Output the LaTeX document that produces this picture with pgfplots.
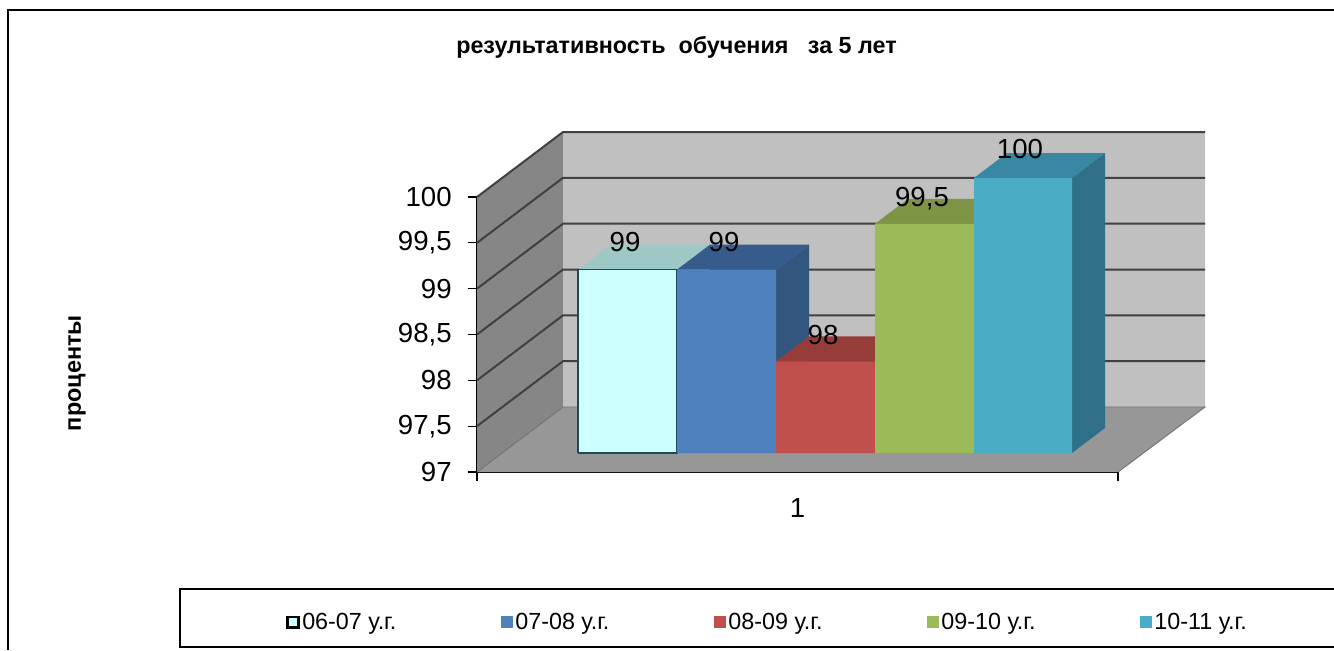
\documentclass[border=0pt]{standalone}
\usepackage{pgfplots}
\pgfplotsset{compat=1.18}
\usepackage{fontspec}
\setmainfont{Liberation Sans}
\definecolor{wallL}{HTML}{868686}
\definecolor{wallB}{HTML}{C0C0C0}
\definecolor{floorc}{HTML}{979797}
\definecolor{cF}{HTML}{CCFFFF}\definecolor{cT}{HTML}{9DC8C6}\definecolor{cS}{HTML}{8DB5B5}
\definecolor{bF}{HTML}{4F81BD}\definecolor{bT}{HTML}{365C8E}\definecolor{bS}{HTML}{33567F}
\definecolor{rF}{HTML}{C0504D}\definecolor{rT}{HTML}{963D3A}\definecolor{rS}{HTML}{8A3836}
\definecolor{gF}{HTML}{9BBB59}\definecolor{gT}{HTML}{7E9545}\definecolor{gS}{HTML}{728A40}
\definecolor{tF}{HTML}{4BACC6}\definecolor{tT}{HTML}{3A87A3}\definecolor{tS}{HTML}{2F7086}
\definecolor{edgeC}{HTML}{1F4A55}
\newcommand{\bigfnt}{\fontsize{20.7}{24}\selectfont}
% one bar: x0, x1 (px along the front edge), value, colours front/top/side, extra front style
\newcommand{\threeDbar}[7]{%
  \pgfmathsetmacro{\yb}{97.207}%
  \pgfmathsetmacro{\yt}{#3+0.207}%
  \pgfmathsetmacro{\ybb}{97.48}%
  \pgfmathsetmacro{\ytb}{#3+0.48}%
  \pgfmathsetmacro{\xa}{#1+33}%
  \pgfmathsetmacro{\xb}{#2+33}%
  \addplot[forget plot,fill=#5,draw=none] coordinates {(#1,\yt) (#2,\yt) (\xb,\ytb) (\xa,\ytb) (#1,\yt)};
  \addplot[forget plot,fill=#6,draw=none] coordinates {(#2,\yb) (\xb,\ybb) (\xb,\ytb) (#2,\yt) (#2,\yb)};
  \addplot[fill=#4,#7] coordinates {(#1,\yb) (#2,\yb) (#2,\yt) (#1,\yt) (#1,\yb)};
}
\pgfplotsset{
  sq/.style={legend image code/.code={\fill[#1] (0pt,-4.5pt) rectangle (9pt,4.5pt);}},
}
\begin{document}
\begin{tikzpicture}[x=0.75pt,y=-0.75pt]
\path[use as bounding box] (0,0) rectangle (1334,650);
% chart frame and legend box
\draw[line width=1.1pt] (1334,10) -- (8,10) -- (8,650);
\draw[line width=1.3pt] (1334,589) -- (180,589) -- (180,647) -- (1334,647);
\node[font=\bfseries\fontsize{17.5}{20}\selectfont] at (676.5,47) {результативность\ \ обучения\ \ \ за 5 лет};
\node[font=\bfseries\fontsize{17.6}{20}\selectfont,rotate=90] at (77,373) {проценты};
\begin{axis}[
  at={(357.75pt,-354pt)}, anchor=south west,
  scale only axis, width=480.75pt, height=206.25pt,
  xmin=0, xmax=641, ymin=97, ymax=100,
  clip=false, no markers,
  axis x line=bottom, axis y line=left,
  axis line style={-,line width=1pt},
  ytick={97,97.5,98,98.5,99,99.5,100},
  xtick={0,641}, xticklabels={,},
  extra x ticks={320.5}, extra x tick labels={1},
  extra x tick style={tick style={draw=none}},
  x tick style={black,line width=1pt},
  y tick style={black,line width=0.9pt},
  major tick length=7pt, tick align=outside,
  tick label style={font=\bigfnt},
  yticklabel style={xshift=-8.5pt,/pgf/number format/use comma,/pgf/number format/assume math mode=true},
  xticklabel style={yshift=-9.5pt,/pgf/number format/assume math mode=true},
  legend columns=5,
  legend style={at={(axis cs:-195,95.36)},anchor=west,draw=none,fill=none,
    font=\fontsize{17.5}{20}\selectfont,
    /tikz/every even column/.append style={column sep=76.2pt}},
  legend cell align=left,
]
% walls and floor
\addplot[forget plot,fill=wallL,draw=none] coordinates {(0,97) (86,97.709) (86,100.709) (0,100) (0,97)};
\addplot[forget plot,fill=wallB,draw=none] coordinates {(86,97.709) (728,97.709) (728,100.709) (86,100.709) (86,97.709)};
\addplot[forget plot,fill=floorc,draw=none] coordinates {(0,97) (86,97.709) (728,97.709) (641,97) (0,97)};
% grid lines on the left and back walls
\addplot[forget plot,black!75,line width=1.5pt] coordinates {(0,97.5) (86,98.209) (728,98.209)};
\addplot[forget plot,black!75,line width=1.5pt] coordinates {(0,98) (86,98.709) (728,98.709)};
\addplot[forget plot,black!75,line width=1.5pt] coordinates {(0,98.5) (86,99.209) (728,99.209)};
\addplot[forget plot,black!75,line width=1.5pt] coordinates {(0,99) (86,99.709) (728,99.709)};
\addplot[forget plot,black!75,line width=1.5pt] coordinates {(0,99.5) (86,100.209) (728,100.209)};
\addplot[forget plot,black!75,line width=1.5pt] coordinates {(0,100) (86,100.709) (728,100.709)};
\addplot[forget plot,black!55,line width=0.7pt] coordinates {(0,97) (86,97.709) (728,97.709) (641,97)};
% bars
\threeDbar{101}{200}{99}{cF}{cT}{cS}{draw=edgeC,line width=1.1pt,
  legend image code/.code={\draw[fill=cF,draw=black,line width=2pt] (1pt,-4pt) rectangle (9pt,4pt);}}
\addlegendentry{06-07 у.г.}
\threeDbar{200}{299}{99}{bF}{bT}{bS}{draw=none,sq=bF}
\addlegendentry{07-08 у.г.}
\threeDbar{299}{398}{98}{rF}{rT}{rS}{draw=none,sq=rF}
\addlegendentry{08-09 у.г.}
\threeDbar{398}{497}{99.5}{gF}{gT}{gS}{draw=none,sq=gF}
\addlegendentry{09-10 у.г.}
\threeDbar{497}{595}{100}{tF}{tT}{tS}{draw=none,sq=tF}
\addlegendentry{10-11 у.г.}
% data labels
\node[font=\bigfnt] at (axis cs:148,99.512) {99};
\node[font=\bigfnt] at (axis cs:247,99.512) {99};
\node[font=\bigfnt] at (axis cs:346,98.49) {98};
\node[font=\bigfnt] at (axis cs:445,99.98) {99,5};
\node[font=\bigfnt] at (axis cs:543,100.52) {100};
\end{axis}
\end{tikzpicture}
\end{document}
